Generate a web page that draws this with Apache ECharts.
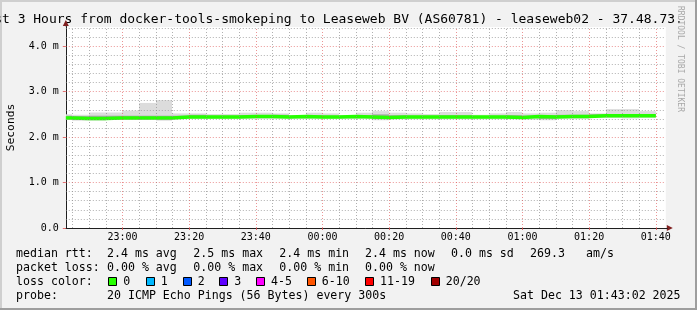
<!DOCTYPE html>
<html><head><meta charset="utf-8">
<script src="https://cdn.jsdelivr.net/npm/echarts@6/dist/echarts.min.js"></script>
<style>html,body{margin:0;padding:0;background:#f2f2f2}#c{width:697px;height:310px}</style>
</head><body><div id="c"></div>
<script>
// ---- data ----
const startTime = '22:43';
const endTime = '01:43';
const stepMinutes = 5;
const stepEnds = ['22:45','22:50','22:55','23:00','23:05','23:10','23:15','23:20','23:25','23:30','23:35','23:40',
  '23:45','23:50','23:55','00:00','00:05','00:10','00:15','00:20','00:25','00:30','00:35','00:40',
  '00:45','00:50','00:55','01:00','01:05','01:10','01:15','01:20','01:25','01:30','01:35','01:40'];
// median rtt (ms)
const medianRtt = [2.42,2.41,2.41,2.42,2.42,2.42,2.42,2.44,2.44,2.44,2.44,2.45,
  2.45,2.44,2.45,2.44,2.44,2.45,2.44,2.43,2.44,2.44,2.44,2.44,
  2.44,2.44,2.44,2.43,2.45,2.44,2.45,2.45,2.47,2.47,2.47,2.47];
// smoke: min / max ping (ms)
const smokeLow = [2.38,2.36,2.36,2.38,2.38,2.38,2.36,2.40,2.40,2.40,2.40,2.40,
  2.40,2.40,2.40,2.40,2.40,2.40,2.40,2.37,2.39,2.39,2.39,2.39,
  2.39,2.39,2.39,2.39,2.38,2.37,2.40,2.40,2.42,2.42,2.41,2.42];
const smokeHigh = [2.50,2.49,2.54,2.54,2.58,2.75,2.81,2.52,2.52,2.505,2.505,2.535,
  2.535,2.52,2.484,2.535,2.52,2.484,2.535,2.57,2.535,2.52,2.505,2.55,
  2.55,2.49,2.52,2.55,2.52,2.535,2.59,2.57,2.52,2.615,2.615,2.57];
// inner (darker) smoke band
const innerLow = [2.40,2.38,2.38,2.40,2.40,2.40,2.39,2.42,2.42,2.42,2.42,2.43,
  2.43,2.42,2.43,2.42,2.42,2.43,2.42,2.40,2.42,2.42,2.42,2.42,
  2.42,2.42,2.42,2.41,2.42,2.40,2.43,2.43,2.45,2.45,2.45,2.45];
const innerHigh = [2.47,2.46,2.47,2.47,2.47,2.47,2.47,2.47,2.49,2.47,2.47,2.48,
  2.48,2.49,2.46,2.48,2.47,2.46,2.48,2.50,2.48,2.47,2.47,2.48,
  2.48,2.46,2.47,2.48,2.47,2.48,2.49,2.49,2.50,2.49,2.50,2.50];
// axes
const xLabelTimes = ['23:00','23:20','23:40','00:00','00:20','00:40','01:00','01:20','01:40'];
const yLabelValues = [0, 1, 2, 3, 4];
const yMax = 4.42;
const yMinorStep = 0.2;
// texts
const titleText = 'Last 3 Hours from docker-tools-smokeping to Leaseweb BV (AS60781) - leaseweb02 - 37.48.73.';
const yName = 'Seconds';
const rttRow = ['median rtt:', '2.4 ms avg', '2.5 ms max', '2.4 ms min', '2.4 ms now', '0.0 ms sd', '269.3', 'am/s'];
const lossRow = ['packet loss:', '0.00 % avg', '0.00 % max', '0.00 % min', '0.00 % now'];
const lossColorLabel = 'loss color:';
const lossLabels = ['0','1','2','3','4-5','6-10','11-19','20/20'];
const lossColors = ['#26ff00','#00b8ff','#0059ff','#5e00ff','#ff00ff','#ff5500','#ff0000','#a10000'];
const probeRow = ['probe:', '20 ICMP Echo Pings (56 Bytes) every 300s', 'Sat Dec 13 01:43:02 2025'];
const watermark = 'RRDTOOL / TOBI OETIKER';

// ---- helpers ----
const toMin = s => { const p = s.split(':').map(Number); const v = p[0]*60 + p[1]; return p[0] >= 12 ? v - 1440 : v; };
const fmtMin = v => { let m = ((v % 1440) + 1440) % 1440; const h = Math.floor(m/60), mm = m % 60; return String(h).padStart(2,'0') + ':' + String(mm).padStart(2,'0'); };
const X_MIN = toMin(startTime), X_MAX = toMin(endTime);
const MONO = '"DejaVu Sans Mono", monospace';

// grid lines (5 minute minor, 20 minute major; 0.2 minor, 1.0 major)
const majorX = xLabelTimes.map(toMin);
const MINOR = { color: 'rgba(143,143,143,0.7)', type: [1, 2], width: 1 };
const MAJOR = { color: 'rgba(222,79,79,0.6)', type: [1, 2], width: 1 };
const gridLines = [];
for (let t = Math.ceil(X_MIN / stepMinutes) * stepMinutes; t < X_MAX; t += stepMinutes) {
  if (!majorX.includes(t)) gridLines.push({ xAxis: t, lineStyle: MINOR });
}
for (let i = 1; i * yMinorStep < yMax; i++) {
  const v = +(i * yMinorStep).toFixed(2);
  if (Math.abs(v - Math.round(v)) > 1e-6) gridLines.push({ yAxis: v, lineStyle: MINOR });
}
majorX.forEach(t => gridLines.push({ xAxis: t, lineStyle: MAJOR }));
yLabelValues.filter(v => v > 0).forEach(v => gridLines.push({ yAxis: v, lineStyle: MAJOR }));

const smokeData = stepEnds.map((s, i) => [toMin(s), smokeLow[i], smokeHigh[i], innerLow[i], innerHigh[i]]);
const medianData = [[X_MIN, medianRtt[0]]].concat(stepEnds.map((s, i) => [toMin(s), medianRtt[i]]));

const chart = echarts.init(document.getElementById('c'), null, { renderer: 'canvas' });

const GRID = { left: 65.8, top: 27, width: 600, height: 201 };

// ---- footer graphics ----
const FONT_F = '11.6px ' + MONO;
const graphics = [];
const txt = (text, x, y, extra) => graphics.push(Object.assign({ type: 'text', silent: true, style: Object.assign({ text, x, y, font: FONT_F, fill: '#000', verticalAlign: 'middle' }, extra || {}) }));
// frame
graphics.push({ type: 'rect', silent: true, shape: { x: 0, y: 0, width: 697, height: 2 }, style: { fill: '#cfcfcf' } });
graphics.push({ type: 'rect', silent: true, shape: { x: 0, y: 0, width: 2, height: 310 }, style: { fill: '#cfcfcf' } });
graphics.push({ type: 'rect', silent: true, shape: { x: 0, y: 308, width: 697, height: 2 }, style: { fill: '#9e9e9e' } });
graphics.push({ type: 'rect', silent: true, shape: { x: 695, y: 0, width: 2, height: 310 }, style: { fill: '#9e9e9e' } });
// title
txt(titleText, -21.5, 19.5, { font: '13px ' + MONO });
// watermark
graphics.push({ type: 'text', silent: true, x: 680, y: 59, rotation: -Math.PI / 2,
  style: { text: watermark, x: 0, y: 0, font: '8px ' + MONO, fill: '#a8a8a8', align: 'center', verticalAlign: 'middle' } });
// rows
const colX = [16, 107, 193.3, 279.3, 365, 451, 530, 586];
const rowY = [254.3, 268, 281.7, 295.5];
rttRow.forEach((s, i) => txt(s, colX[i], rowY[0]));
lossRow.forEach((s, i) => txt(s, colX[i], rowY[1]));
txt(lossColorLabel, colX[0], rowY[2]);
const swX = [108.3, 145.7, 182.7, 219.3, 256, 306.7, 365, 430.7];
lossLabels.forEach((s, i) => {
  graphics.push({ type: 'rect', silent: true, shape: { x: Math.round(swX[i]) + 0.5, y: 277.5, width: 8, height: 8 }, style: { fill: lossColors[i], stroke: '#000', lineWidth: 1 } });
  txt(s, swX[i] + 15, rowY[2]);
});
txt(probeRow[0], colX[0], rowY[3]);
txt(probeRow[1], colX[1], rowY[3]);
txt(probeRow[2], 513, rowY[3]);

chart.setOption({
  animation: false,
  backgroundColor: '#f2f2f2',
  grid: Object.assign({ show: true, backgroundColor: '#ffffff', borderWidth: 0, containLabel: false, outerBoundsMode: 'none' }, GRID),
  xAxis: {
    type: 'value', min: X_MIN, max: X_MAX,
    axisLine: { show: true, onZero: false, lineStyle: { color: '#1f1f1f', width: 1 } },
    axisTick: { show: true, customValues: majorX, length: 2, lineStyle: { color: 'rgba(222,79,79,0.8)' } },
    axisLabel: { show: true, customValues: majorX, formatter: v => fmtMin(v), fontFamily: MONO, fontSize: 10, color: '#000', margin: 4 },
    splitLine: { show: false }
  },
  yAxis: {
    type: 'value', min: 0, max: yMax,
    name: yName, nameLocation: 'middle', nameRotate: 90, nameGap: 49,
    nameTextStyle: { fontFamily: MONO, fontSize: 11.3, color: '#000' },
    axisLine: { show: true, onZero: false, lineStyle: { color: '#1f1f1f', width: 1 } },
    axisTick: { show: true, customValues: yLabelValues, length: 3, lineStyle: { color: 'rgba(222,79,79,0.8)' } },
    axisLabel: { show: true, customValues: yLabelValues, formatter: v => v === 0 ? '0.0' : v.toFixed(1) + ' m', fontFamily: MONO, fontSize: 10, color: '#000', margin: 7 },
    splitLine: { show: false }
  },
  series: [
    {
      type: 'custom', z: 2, silent: true,
      encode: { x: 0, y: [1, 2] },
      data: smokeData,
      renderItem: (params, api) => {
        const t1 = api.value(0), t0 = Math.max(t1 - stepMinutes, X_MIN);
        const a = api.coord([t0, api.value(2)]), b = api.coord([t1, api.value(1)]);
        const c = api.coord([t0, api.value(4)]), d = api.coord([t1, api.value(3)]);
        const x0 = Math.round(a[0]), x1 = Math.round(b[0]);
        return { type: 'group', children: [
          { type: 'rect', shape: { x: x0, y: a[1], width: x1 - x0, height: b[1] - a[1] }, style: { fill: '#dcdcdc' } },
          { type: 'rect', shape: { x: x0, y: c[1], width: x1 - x0, height: d[1] - c[1] }, style: { fill: '#a8a8a8' } }
        ] };
      }
    },
    {
      type: 'line', z: 3, silent: true, data: [],
      markLine: { silent: true, symbol: ['none', 'none'], label: { show: false }, animation: false, data: gridLines }
    },
    {
      type: 'line', z: 4, silent: true, step: 'start', symbol: 'none', showSymbol: false,
      data: medianData,
      lineStyle: { color: '#26ff00', width: 3.5 }
    }
  ],
  graphic: graphics
});

// axis arrows (dark red) placed through the axis scales
const pX = chart.convertToPixel({ gridIndex: 0 }, [X_MAX, 0]);
const pY = chart.convertToPixel({ gridIndex: 0 }, [X_MIN, yMax]);
graphics.push({ type: 'polygon', silent: true, shape: { points: [[pX[0] + 1, pX[1] - 3], [pX[0] + 7, pX[1]], [pX[0] + 1, pX[1] + 3]] }, style: { fill: '#802020' } });
graphics.push({ type: 'polygon', silent: true, shape: { points: [[pY[0] - 3, pY[1] - 1], [pY[0], pY[1] - 7], [pY[0] + 3, pY[1] - 1]] }, style: { fill: '#802020' } });
graphics.push({ type: 'line', silent: true, shape: { x1: pX[0], y1: pX[1] + 0.5, x2: pX[0] + 2, y2: pX[1] + 0.5 }, style: { stroke: '#1f1f1f' } });
graphics.push({ type: 'line', silent: true, shape: { x1: pY[0] + 0.5, y1: pY[1] - 1, x2: pY[0] + 0.5, y2: pY[1] }, style: { stroke: '#1f1f1f' } });
chart.setOption({ graphic: graphics }, { replaceMerge: ['graphic'] });
</script>
</body></html>
